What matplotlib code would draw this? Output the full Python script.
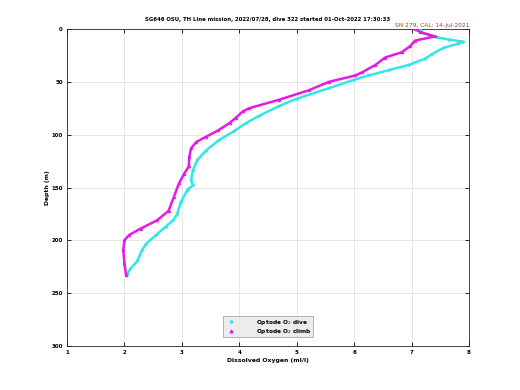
import matplotlib
matplotlib.use('Agg')
import matplotlib.pyplot as plt
from matplotlib.lines import Line2D

# Optode O2 dive profile (depth m, O2 ml/l)
dive_depth = [0, 4, 8, 10, 12, 14, 18, 24, 28, 34, 39, 44, 48, 56, 66, 73, 82, 89, 97,
              105, 115, 124, 134, 143, 148, 152, 164, 175, 181, 187, 195, 203, 209, 220, 227, 233]
dive_o2 = [7.15, 7.2, 7.45, 7.65, 7.9, 7.8, 7.55, 7.35, 7.24, 6.95, 6.6, 6.25, 6.0, 5.56, 5.0, 4.69, 4.35, 4.12, 3.9,
           3.65, 3.42, 3.27, 3.19, 3.16, 3.19, 3.10, 2.98, 2.92, 2.85, 2.72, 2.55, 2.38, 2.31, 2.22, 2.1, 2.04]

# Optode O2 climb profile
climb_depth = [0, 3, 7, 11, 16, 22, 27, 34, 41, 44, 50, 58, 67, 75, 78, 84, 89, 96,
               102, 107, 113, 121, 130, 137, 146, 159, 172, 181, 189, 195, 200, 209, 222, 233]
climb_o2 = [7.06, 7.15, 7.41, 7.06, 6.98, 6.83, 6.54, 6.37, 6.14, 6.02, 5.56, 5.21, 4.69, 4.17, 4.06, 3.94, 3.83, 3.63,
            3.42, 3.25, 3.16, 3.13, 3.12, 3.04, 2.95, 2.86, 2.77, 2.57, 2.28, 2.08, 2.0, 1.98, 2.0, 2.03]

xticks = [1, 2, 3, 4, 5, 6, 7, 8]
yticks = [0, 50, 100, 150, 200, 250, 300]

title = 'SG646 OSU, TH Line mission, 2022/07/28, dive 322 started 01-Oct-2022 17:30:33'
cal_text = 'SN 279, CAL: 14-Jul-2021'

cyan = '#33e6e6'
magenta = '#e619e6'

fig = plt.figure(figsize=(5.2, 3.9), dpi=100)
ax = fig.add_axes([67/520, 1 - 346/390, (469-67)/520, (346-29)/390])

ax.plot(dive_o2, dive_depth, color=cyan, lw=1.8, marker='v', ms=1.5, zorder=3)
ax.plot(climb_o2, climb_depth, color=magenta, lw=1.8, marker='^', ms=1.5, zorder=3)

ax.set_xlim(1, 8)
ax.set_ylim(300, 0)
ax.set_xticks(xticks)
ax.set_yticks(yticks)
ax.grid(True, color='#e3e3e3', lw=0.6)
ax.set_axisbelow(True)
ax.tick_params(direction='in', length=3, width=0.6, labelsize=4, top=True, right=True, pad=3)
for lab in ax.get_xticklabels() + ax.get_yticklabels():
    lab.set_fontweight('bold')
for s in ax.spines.values():
    s.set_linewidth(0.6)
    s.set_color('#262626')

ax.set_xlabel('Dissolved Oxygen (ml/l)', fontsize=4.4, fontweight='bold', labelpad=2)
ax.set_ylabel('Depth (m)', fontsize=4.4, fontweight='bold', labelpad=1)
fig.text(268/520, 1 - 19/390, title, fontsize=3.9, fontweight='bold', ha='center', va='center')
fig.text(469/520, 1 - 26/390, cal_text, fontsize=4.2, color='#a8421a', ha='right', va='center')

handles = [Line2D([], [], color=cyan, marker='v', ls='none', ms=2),
           Line2D([], [], color=magenta, marker='^', ls='none', ms=2)]
leg = ax.legend(handles, ['Optode O$_2$ dive', 'Optode O$_2$ climb'], loc='lower center',
                bbox_to_anchor=(0.5, 0.028), fontsize=4.2, frameon=True, fancybox=False,
                handlelength=2.2, handletextpad=3.2, borderpad=0.25, labelspacing=0.0,
                borderaxespad=0)
leg.get_frame().set_facecolor('#e8e8e8')
leg.get_frame().set_edgecolor('#7f7f7f')
leg.get_frame().set_linewidth(0.5)
for t in leg.get_texts():
    t.set_fontweight('bold')

plt.savefig('out.png', dpi=100)
